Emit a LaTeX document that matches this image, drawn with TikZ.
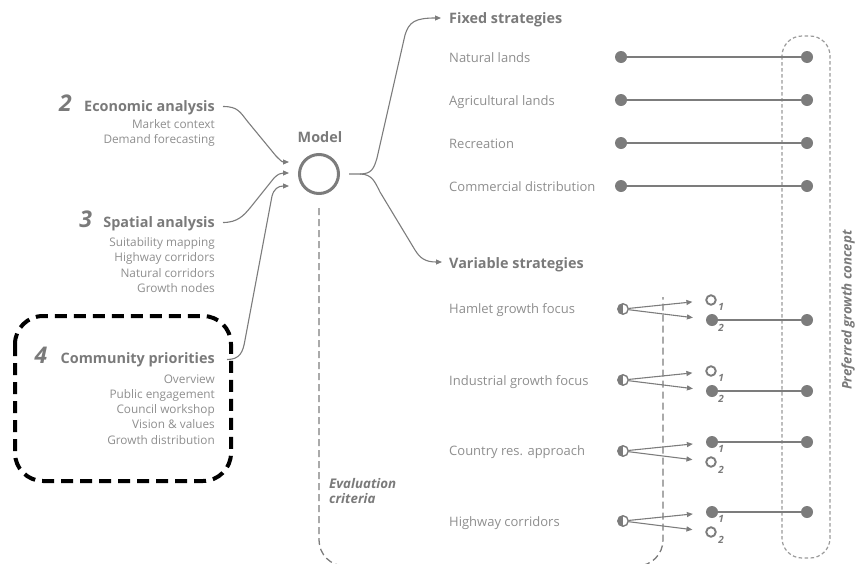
\documentclass[tikz,border=0pt]{standalone}
\usepackage{fontspec}
\setmainfont{Open Sans}
\usetikzlibrary{arrows.meta,calc}
\definecolor{hd}{HTML}{7A7A7A}
\definecolor{it}{HTML}{8E8E8E}
\definecolor{ln}{HTML}{7C7C7C}
\definecolor{lt}{HTML}{9A9A9A}
\begin{document}
\begin{tikzpicture}[x=1pt,y=-1pt,
  hdr/.style={font=\fontsize{14.4}{16}\selectfont\bfseries, text=hd, inner sep=0pt},
  num/.style={font=\fontsize{23}{24}\selectfont\bfseries\itshape, text=hd, inner sep=0pt, anchor=base east},
  itm/.style={font=\fontsize{11.8}{13}\selectfont, text=it, inner sep=0pt, anchor=mid east},
  ritm/.style={font=\fontsize{13}{15}\selectfont, text=it, inner sep=0pt, anchor=mid west},
  arr/.style={draw=ln, line width=1.1pt, -{Triangle[length=6pt,width=5pt]}},
  link/.style={draw=ln, line width=1.1pt},
  dot/.style={circle, fill=ln, inner sep=0pt, minimum size=12pt},
  odot/.style={circle, draw=ln, line width=1.9pt, fill=white, inner sep=0pt, minimum size=9.5pt},
  hdot/.style={circle, draw=ln, line width=1.4pt, fill=white, inner sep=0pt, minimum size=10.5pt,
    path picture={\fill[ln] (path picture bounding box.south west) rectangle (path picture bounding box.north);}},
  sub/.style={font=\fontsize{10}{11}\selectfont\bfseries\itshape, text=hd, inner sep=0pt},
  bi/.style={font=\fontsize{13.3}{15}\selectfont\bfseries\itshape, text=hd, inner sep=0pt}
]
\useasboundingbox (0,0) rectangle (857,563);
\begin{scope}
\clip (0,0) rectangle (857,563);
% evaluation criteria dashed frame
\draw[draw=ln, line width=1.3pt, dash pattern=on 7pt off 4pt, rounded corners=26pt]
  (319,208) -- (319,566) -- (663,566) -- (663,297);
% preferred growth concept box
\draw[draw=lt, line width=1.2pt, dash pattern=on 3.5pt off 2.5pt, rounded corners=20pt]
  (782,36) rectangle (830,558);
\end{scope}

% ---------- left inputs ----------
\node[hdr, anchor=base east] (eco) at (215,111.5) {Economic analysis};
\node[num] (n2) at ($(eco.base west)+(-12,0)$) {2};
\node[itm] (e1) at (215,125.5) {Market context};
\node[itm] (e2) at (215,141) {Demand forecasting};

\node[hdr, anchor=base east] (spa) at (215,227.5) {Spatial analysis};
\node[num] (n3) at ($(spa.base west)+(-11,0)$) {3};
\node[itm] (s1) at (215,243.5) {Suitability mapping};
\node[itm] (s2) at (215,259) {Highway corridors};
\node[itm] (s3) at (215,274.5) {Natural corridors};
\node[itm] (s4) at (215,290) {Growth nodes};

\node[hdr, anchor=base east] (com) at (215,363.5) {Community priorities};
\node[num] (n4) at ($(com.base west)+(-13,0)$) {4};
\node[itm] (c1) at (215,380.5) {Overview};
\node[itm] (c2) at (215,396) {Public engagement};
\node[itm] (c3) at (215,411) {Council workshop};
\node[itm] (c4) at (215,426) {Vision \& values};
\node[itm] (c5) at (215,441.5) {Growth distribution};

\draw[black, line width=4pt, dash pattern=on 12pt off 7pt, rounded corners=28pt]
  (15,316) rectangle (231,481);

% ---------- model ----------
\node[hdr, anchor=mid] (mlab) at (320,140) {Model};
\node[circle, draw=ln, line width=3pt, minimum size=39pt, inner sep=0pt] (m) at (319,174) {};

\coordinate (in1) at (289,162);
\coordinate (in2) at (289,173);
\coordinate (in3) at (289,186);
\coordinate (out) at (349,174);

\draw[arr] ($(eco.base east)+(8,-5)$) .. controls +(15,0) and (240,112) .. (248,122) -- (276,156) .. controls (280,160) and (282,162) .. (in1);
\draw[arr] ($(spa.base east)+(8,-5)$) .. controls +(15,0) and (244,215) .. (250,208) -- (274,178) .. controls (278,174) and (281,173) .. (in2);
\draw[arr] ($(com.base east)+(12,-4)$) .. controls +(13,0) and (243,352) .. (245,340) -- (272,196) .. controls (274,189) and (278,186) .. (in3);

% ---------- strategies ----------
\node[hdr, anchor=mid west] (fx) at (449,21) {Fixed strategies};
\node[hdr, anchor=mid west] (vr) at (449,266) {Variable strategies};

\draw[arr] (out) -- (360,174) .. controls (372,174) and (374,168) .. (377,158) -- (405,35) .. controls (409,22) and (415,18) .. (441,18);
\draw[arr] (360,174) .. controls (372,174) and (375,182) .. (380,192) -- (415,250) .. controls (420,258) and (425,262) .. (442,262);

% fixed
\foreach \i/\t/\y in {1/Natural lands/57, 2/Agricultural lands/100, 3/Recreation/143, 4/Commercial distribution/186}{
  \node[ritm] (f\i) at (449,\y+2.5) {\t};
  \node[dot] (fa\i) at (621,\y) {};
  \node[dot] (fb\i) at (807,\y) {};
  \draw[link] (fa\i) -- (fb\i);
}

% variable
\node[ritm] (v1) at (449,310.5) {Hamlet growth focus};
\node[ritm] (v2) at (449,382.5) {Industrial growth focus};
\node[ritm] (v3) at (449,452.5) {Country res. approach};
\node[ritm] (v4) at (449,523.5) {Highway corridors};

\node[hdot] (h1) at (623,309) {};
\node[hdot] (h2) at (623,380) {};
\node[hdot] (h3) at (623,451) {};
\node[hdot] (h4) at (623,521) {};

% options
\node[odot] (a1) at (711,300) {};
\node[dot]  (a2) at (712,320) {};
\node[odot] (b1) at (711,371) {};
\node[dot]  (b2) at (712,391) {};
\node[dot]  (c1o) at (712,442) {};
\node[odot] (c2o) at (711,462) {};
\node[dot]  (d1) at (712,512) {};
\node[odot] (d2) at (711,532) {};

\draw[arr, shorten >=13pt] (h1) -- (a1);
\draw[arr, shorten >=13pt] (h1) -- (a2);
\draw[arr, shorten >=13pt] (h2) -- (b1);
\draw[arr, shorten >=13pt] (h2) -- (b2);
\draw[arr, shorten >=13pt] (h3) -- (c1o);
\draw[arr, shorten >=13pt] (h3) -- (c2o);
\draw[arr, shorten >=13pt] (h4) -- (d1);
\draw[arr, shorten >=13pt] (h4) -- (d2);

\node[sub] (sa1) at (721,307) {1};
\node[sub] (sa2) at (721,328) {2};
\node[sub] (sb1) at (721,378) {1};
\node[sub] (sb2) at (721,399) {2};
\node[sub] (sc1) at (721,449) {1};
\node[sub] (sc2) at (721,470) {2};
\node[sub] (sd1) at (721,519) {1};
\node[sub] (sd2) at (721,540) {2};

\node[dot] (ra) at (807,320) {};
\node[dot] (rb) at (807,391) {};
\node[dot] (rc) at (807,442) {};
\node[dot] (rd) at (807,512) {};
\draw[link] (a2) -- (ra);
\draw[link] (b2) -- (rb);
\draw[link] (c1o) -- (rc);
\draw[link] (d1) -- (rd);

% labels
\node[bi, anchor=base west, align=left] (ev) at (329,503) {Evaluation\\[0pt]criteria};
\node[bi, rotate=90, anchor=mid] (pg) at (849,310) {Preferred growth concept};
\end{tikzpicture}
\end{document}
